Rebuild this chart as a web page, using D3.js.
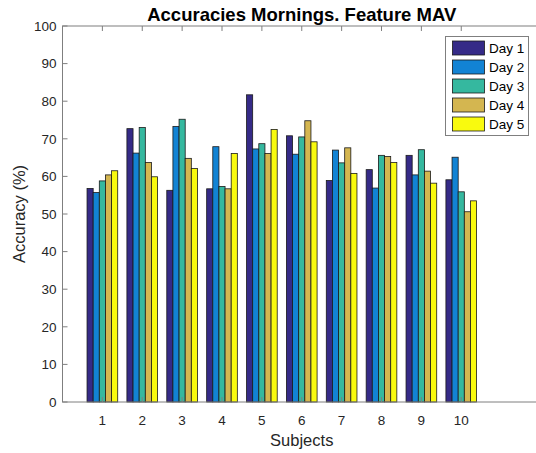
<!DOCTYPE html>
<html>
<head>
<meta charset="utf-8">
<script src="https://cdn.jsdelivr.net/npm/d3@7"></script>
<style>
  body { margin: 0; background: #fff; }
  svg { font-family: Arial, "Liberation Sans", Helvetica, sans-serif; }
</style>
</head>
<body>
<script>
const subjects = [1, 2, 3, 4, 5, 6, 7, 8, 9, 10];
const days = ["Day 1", "Day 2", "Day 3", "Day 4", "Day 5"];
const day1 = [56.8, 72.7, 56.3, 56.7, 81.7, 70.8, 58.9, 61.8, 65.6, 59.1];
const day2 = [55.7, 66.2, 73.3, 67.9, 67.3, 65.9, 67.0, 56.9, 60.4, 65.1];
const day3 = [58.8, 73.0, 75.2, 57.3, 68.7, 70.5, 63.6, 65.6, 67.1, 55.9];
const day4 = [60.4, 63.7, 64.8, 56.7, 66.1, 74.8, 67.6, 65.3, 61.4, 50.6];
const day5 = [61.5, 59.9, 62.1, 66.1, 72.5, 69.2, 60.8, 63.7, 58.2, 53.5];
const yTicks = [0, 10, 20, 30, 40, 50, 60, 70, 80, 90, 100];
const colors = ["#352a87", "#1283d4", "#35b89f", "#d4b650", "#f9fa0e"];

const series = [day1, day2, day3, day4, day5];
const width = 536, height = 453;
const margin = {top: 26, right: -5, bottom: 51, left: 62.5};

const svg = d3.select("body").append("svg")
    .attr("width", width)
    .attr("height", height);

const x = d3.scaleLinear().domain([0, 12]).range([margin.left, width - margin.right]);
const y = d3.scaleLinear().domain([0, 100]).range([height - margin.bottom, margin.top]);

// MATLAB grouped bar geometry
const groupWidth = Math.min(0.8, days.length / (days.length + 1.5));
const barW = groupWidth / days.length;

const axisColor = "#7f7f7f";
const textColor = "#262626";

// bars
const g = svg.append("g");
series.forEach((vals, s) => {
  g.append("g")
      .attr("fill", colors[s])
      .attr("stroke", "#1a1a1a")
      .attr("stroke-width", 0.8)
    .selectAll("rect")
    .data(vals)
    .join("rect")
      .attr("x", (d, i) => x(subjects[i] - groupWidth / 2 + s * barW))
      .attr("width", x(barW) - x(0))
      .attr("y", d => y(d))
      .attr("height", d => y(0) - y(d));
});

// box + ticks
const x0 = x.range()[0], x1 = x.range()[1], y0 = y.range()[0], y1 = y.range()[1];
svg.append("rect")
    .attr("x", x0).attr("y", y1)
    .attr("width", x1 - x0).attr("height", y0 - y1)
    .attr("fill", "none").attr("stroke", axisColor).attr("stroke-width", 1);

const tl = 5;
const ticks = svg.append("g").attr("stroke", axisColor).attr("stroke-width", 1);
subjects.forEach(s => {
  ticks.append("line").attr("x1", x(s)).attr("x2", x(s)).attr("y1", y0).attr("y2", y0 - tl);
  ticks.append("line").attr("x1", x(s)).attr("x2", x(s)).attr("y1", y1).attr("y2", y1 + tl);
});
yTicks.forEach(t => {
  ticks.append("line").attr("x1", x0).attr("x2", x0 + tl).attr("y1", y(t)).attr("y2", y(t));
  ticks.append("line").attr("x1", x1).attr("x2", x1 - tl).attr("y1", y(t)).attr("y2", y(t));
});

// tick labels
svg.append("g")
    .attr("font-size", 13.5).attr("fill", textColor).attr("text-anchor", "middle")
  .selectAll("text").data(subjects).join("text")
    .attr("x", d => x(d)).attr("y", y0 + 23)
    .text(d => d);

svg.append("g")
    .attr("font-size", 13.5).attr("fill", textColor).attr("text-anchor", "end")
  .selectAll("text").data(yTicks).join("text")
    .attr("x", x0 - 6).attr("y", d => y(d)).attr("dy", "0.35em")
    .text(d => d);

// labels
svg.append("text")
    .attr("x", (x0 + x1) / 2).attr("y", 446)
    .attr("text-anchor", "middle").attr("font-size", 16.5).attr("fill", textColor)
    .text("Subjects");

svg.append("text")
    .attr("transform", `translate(25,${(y0 + y1) / 2}) rotate(-90)`)
    .attr("text-anchor", "middle").attr("font-size", 16.5).attr("fill", textColor)
    .text("Accuracy (%)");

svg.append("text")
    .attr("x", (x0 + x1) / 2).attr("y", 21)
    .attr("text-anchor", "middle").attr("font-size", 18.5).attr("font-weight", "bold")
    .attr("fill", "#000")
    .text("Accuracies Mornings. Feature MAV");

// legend
const leg = svg.append("g");
leg.append("rect")
    .attr("x", 445.5).attr("y", 36.5).attr("width", 83).attr("height", 99)
    .attr("fill", "#fff").attr("stroke", axisColor).attr("stroke-width", 1);
days.forEach((d, i) => {
  const cy = 48 + i * 19;
  leg.append("rect")
      .attr("x", 452.5).attr("y", cy - 7).attr("width", 32).attr("height", 14)
      .attr("fill", colors[i]).attr("stroke", "#1a1a1a").attr("stroke-width", 0.8);
  leg.append("text")
      .attr("x", 489).attr("y", cy).attr("dy", "0.35em")
      .attr("font-size", 13.5).attr("fill", "#000")
      .text(d);
});
</script>
</body>
</html>
